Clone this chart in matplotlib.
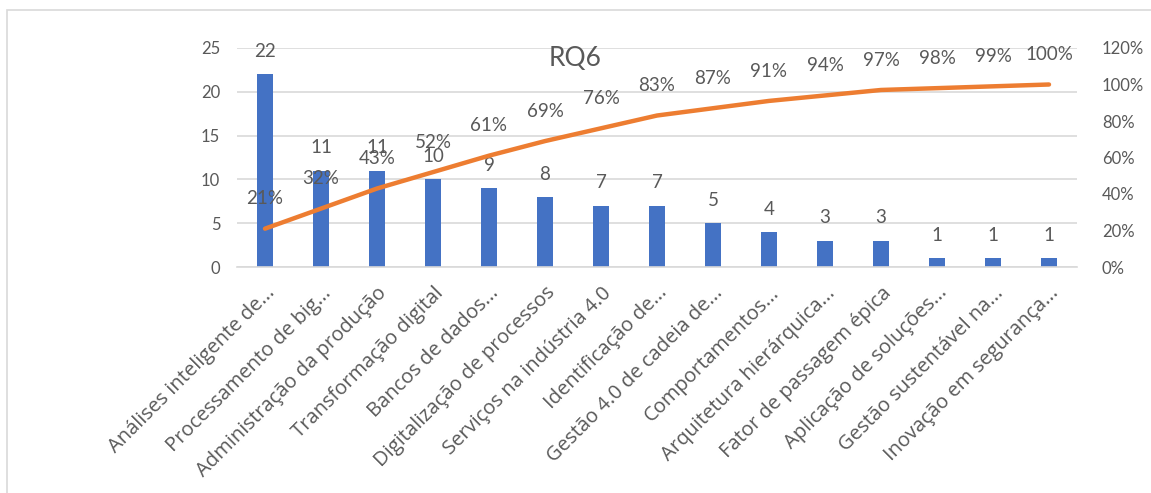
import matplotlib
matplotlib.use("Agg")
import matplotlib.pyplot as plt
from matplotlib.patches import Rectangle
from matplotlib.ticker import FuncFormatter, MultipleLocator

plt.rcParams['font.family'] = ['Lato', 'DejaVu Sans']

categories = [
    "Análises inteligente de...",
    "Processamento de big...",
    "Administração da produção",
    "Transformação digital",
    "Bancos de dados...",
    "Digitalização de processos",
    "Serviços na indústria 4.0",
    "Identificação de...",
    "Gestão 4.0 de cadeia de...",
    "Comportamentos...",
    "Arquitetura hierárquica...",
    "Fator de passagem épica",
    "Aplicação de soluções...",
    "Gestão sustentável na...",
    "Inovação em segurança...",
]
counts = [22, 11, 11, 10, 9, 8, 7, 7, 5, 4, 3, 3, 1, 1, 1]
cumulative_pct = [21, 32, 43, 52, 61, 69, 76, 83, 87, 91, 94, 97, 98, 99, 100]

BAR = "#4472C4"
LINE = "#ED7D31"
TEXT = "#595959"
GRID = "#D9D9D9"

W, H = 1151, 493
fig = plt.figure(figsize=(W / 100, H / 100), dpi=100)

# chart frame
fig.patches.append(Rectangle((7 / W, -0.1), 1.2, 1 - 10 / H + 0.1,
                             transform=fig.transFigure, fill=False,
                             edgecolor="#D9D9D9", linewidth=1.2))

left, right, top, bottom = 237, 1077, 48, 267
ax = fig.add_axes([left / W, 1 - bottom / H, (right - left) / W, (bottom - top) / H])
ax2 = ax.twinx()

x = list(range(len(categories)))
ax.bar(x, counts, width=0.3, color=BAR, zorder=2)
ax.set_xlim(-0.5, len(categories) - 0.5)
ax.set_ylim(0, 25)
ax.yaxis.set_major_locator(MultipleLocator(5))
ax.grid(axis="y", color=GRID, linewidth=1.2, zorder=0)
ax.set_axisbelow(True)

for s in ["top", "left", "right"]:
    ax.spines[s].set_visible(False)
    ax2.spines[s].set_visible(False)
ax.spines["bottom"].set_color(GRID)
ax.spines["bottom"].set_linewidth(1.2)
ax2.spines["bottom"].set_visible(False)

ax.tick_params(axis="y", length=0, pad=12, labelsize=12, labelcolor=TEXT)
ax.tick_params(axis="x", length=0, pad=11.5, labelcolor=TEXT)
ax.set_xticks(x)
ax.set_xticklabels(categories, rotation=45, ha="right", rotation_mode="anchor",
                   fontsize=14.5, family=["Open Sans", "DejaVu Sans"])

ax2.plot(x, [p / 100 for p in cumulative_pct], color=LINE, linewidth=3.2,
         solid_capstyle="round", zorder=3)
ax2.set_ylim(0, 1.2)
ax2.yaxis.set_major_locator(MultipleLocator(0.2))
ax2.yaxis.set_major_formatter(FuncFormatter(lambda v, _: f"{v * 100:.0f}%"))
ax2.tick_params(axis="y", length=0, pad=18, labelsize=12, labelcolor=TEXT)

for xi, c in zip(x, counts):
    ax.annotate(f"{c}", (xi, c), xytext=(0, 16.5), textcoords="offset points",
                ha="center", va="center", fontsize=13.5, color=TEXT, zorder=5)

for xi, p in zip(x, cumulative_pct):
    ax2.annotate(f"{p}%", (xi, p / 100), xytext=(0, 21.5), textcoords="offset points",
                 ha="center", va="center", fontsize=13.5, color=TEXT, zorder=5)

fig.text(575 / W, 1 - 58 / H, "RQ6", ha="center", va="center",
         fontsize=19, color=TEXT)

fig.savefig("out.png", dpi=100, facecolor="white")
